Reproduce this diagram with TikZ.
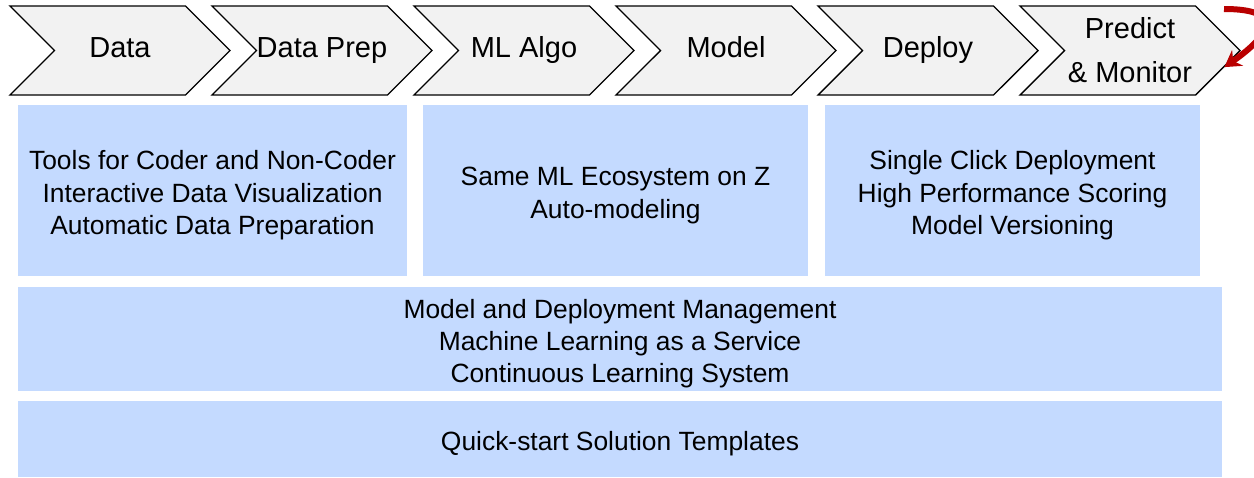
\documentclass[tikz,border=0pt]{standalone}
\usepackage{fontspec}
\setmainfont{Liberation Sans}
\usepackage{tikz}
\usetikzlibrary{arrows,arrows.meta,shapes.symbols}
\definecolor{chevgray}{RGB}{242,242,242}
\definecolor{boxblue}{RGB}{196,218,255}
\definecolor{loopred}{RGB}{185,0,0}
\newcommand{\boxstrut}{\rule{0pt}{28.5pt}}

\begin{document}
\begin{tikzpicture}[x=1pt,y=-1pt,>=stealth',node distance=202pt,
                    chevbase/.style={signal,signal to=east,signal from=west,
                      signal pointer angle=90,draw=black,line width=1.4pt,
                      fill=chevgray,minimum width=220pt,minimum height=89pt,
                      inner sep=0pt,align=center,
                      font=\fontsize{29}{44}\selectfont},
                    chev/.style={chevbase,
                      execute at end node={\rule[-8pt]{0pt}{29pt}}},
                    bluebox/.style={fill=boxblue,inner sep=0pt,align=center,
                      font=\fontsize{26.4}{32.4}\selectfont}]

\useasboundingbox (0,0) rectangle (1254,477);

 \node[chev] (data)                        at (120,50.5) {Data};
\node[chev] (prep) [right of = data]   {Data Prep};
\node[chev] (algo) [right of = prep]   {ML Algo};
\node[chev] (model) [right of = algo]  {Model};
\node[chev] (deploy) [right of = model] {Deploy};
\node[chevbase] (predict) [right of = deploy] {Predict\\\& Monitor};

\node[bluebox,minimum width=389pt,minimum height=171pt] (tools) at (212.5,190.5)
     {\boxstrut Tools for Coder and Non-Coder\\Interactive Data Visualization\\Automatic Data Preparation};
\node[bluebox,minimum width=385pt,minimum height=171pt] (eco) at (615.5,190.5)
     {\boxstrut Same ML Ecosystem on Z\\Auto-modeling};
\node[bluebox,minimum width=375pt,minimum height=171pt] (click) at (1012.5,190.5)
     {\boxstrut Single Click Deployment\\High Performance Scoring\\Model Versioning};
\node[bluebox,minimum width=1204pt,minimum height=104pt] (mgmt) at (620,339)
     {\boxstrut Model and Deployment Management\\Machine Learning as a Service\\Continuous Learning System};
\node[bluebox,minimum width=1204pt,minimum height=76pt] (quick) at (620,439)
     {\boxstrut Quick-start Solution Templates};

 \coordinate (loopstart) at (1224,9);
  \draw[-{Stealth[length=16pt,width=19pt]},loopred,line width=6pt]
     (loopstart) to[out=0,in=35,looseness=2.6] (predict.-10);

\end{tikzpicture}
\end{document}
